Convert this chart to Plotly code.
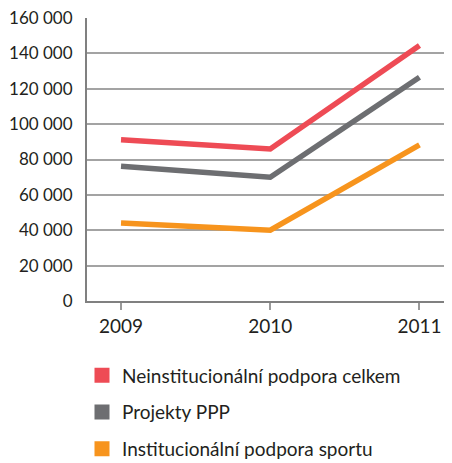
import plotly.graph_objects as go

years = [2009, 2010, 2011]
neinst = [91200, 86000, 144500]
projekty = [76200, 70000, 126500]
inst = [44100, 40000, 88300]
series_names = ["Neinstitucionální podpora celkem", "Projekty PPP", "Institucionální podpora sportu"]
series_colors = ["#EE4B55", "#6D6E71", "#F7941D"]
y_tickvals = [0, 20000, 40000, 60000, 80000, 100000, 120000, 140000, 160000]
y_ticktext = ["0", "20 000", "40 000", "60 000", "80 000", "100 000", "120 000", "140 000", "160 000"]

fig = go.Figure()
for name, vals, col in zip(series_names, [neinst, projekty, inst], series_colors):
    fig.add_trace(go.Scatter(x=years, y=vals, mode="lines", line=dict(color=col, width=5.5),
                             showlegend=False, hoverinfo="skip"))
for i, (name, col) in enumerate(zip(series_names, series_colors)):
    fig.add_trace(go.Scatter(x=[None], y=[None], mode="markers", name=name,
                             marker=dict(symbol="square", size=15, color=col),
                             legendgroup=f"g{i}", showlegend=True))

font_family = "Lato, Open Sans, sans-serif"
fig.update_layout(
    width=444, height=455,
    margin=dict(l=79, r=0, t=10, b=162, autoexpand=False),
    paper_bgcolor="white", plot_bgcolor="white",
    font=dict(family=font_family, size=18, color="#231F20"),
    xaxis=dict(range=[2008.772, 2011.218], tickvals=years, ticktext=[str(y) for y in years],
               showgrid=False, zeroline=False, showline=True, linecolor="#808080", linewidth=2,
               ticks="outside", ticklen=7, tickcolor="#9a9a9a", tickwidth=1.5,
               tickfont=dict(size=19), automargin=False),
    yaxis=dict(range=[0, 160000], tickvals=y_tickvals, ticktext=y_ticktext,
               showgrid=True, gridcolor="#a3a3a3", gridwidth=1.5, zeroline=False,
               showline=True, linecolor="#808080", linewidth=2,
               ticks="", ticklabelstandoff=9, tickfont=dict(size=17), automargin=False,
               ticklabeloverflow="allow"),
    legend=dict(x=-0.0137, y=-0.196, xanchor="left", yanchor="top",
                font=dict(size=19, color="#231F20"), tracegroupgap=9,
                itemsizing="trace", bgcolor="rgba(0,0,0,0)"),
    showlegend=True,
)

fig.write_html("out.html")
